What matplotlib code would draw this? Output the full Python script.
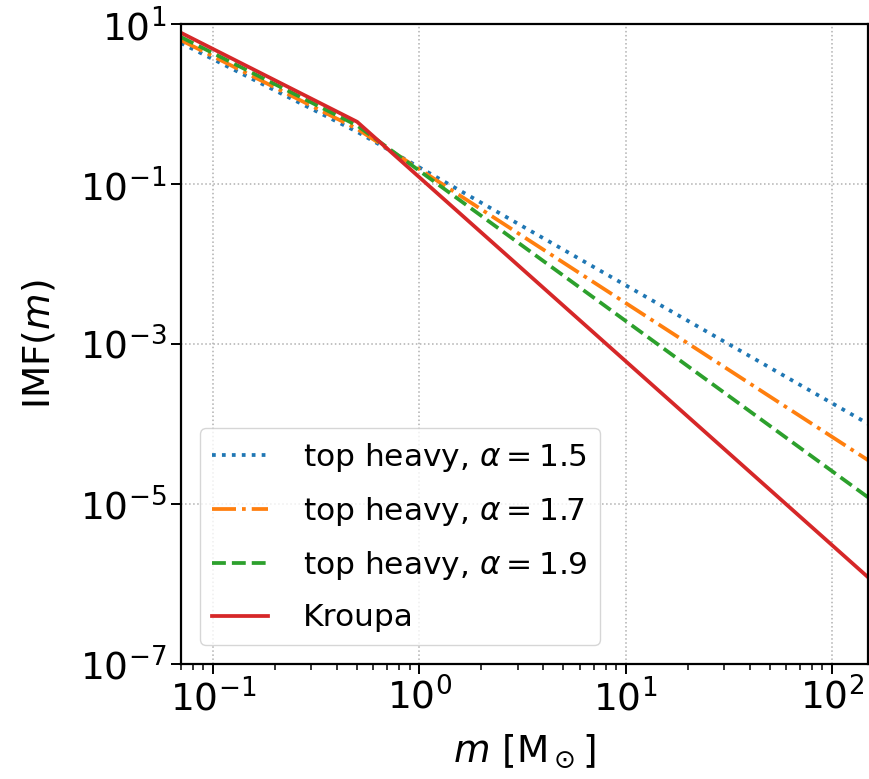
import matplotlib.pyplot as plt
from matplotlib.ticker import NullLocator

# stellar mass grid points (Msun) where the power-law segments meet
mass = [0.07, 0.5, 150.0]

# IMF values at those masses
imf_a15 = [5.8, 0.45, 1.0e-4]
imf_a17 = [6.3, 0.49, 3.5e-5]
imf_a19 = [6.9, 0.54, 1.2e-5]
imf_kroupa = [7.8, 0.60, 1.2e-6]

labels = [r'top heavy, $\alpha=1.5$', r'top heavy, $\alpha=1.7$',
          r'top heavy, $\alpha=1.9$', 'Kroupa']
yticks = [1e1, 1e-1, 1e-3, 1e-5, 1e-7]

fig = plt.figure(figsize=(8.7, 7.79), dpi=100)
ax = fig.add_axes([0.208, 0.148, 0.79, 0.821])

ax.plot(mass, imf_a15, ':', color='C0', lw=2.7, label=labels[0])
ax.plot(mass, imf_a17, '-.', color='C1', lw=2.7, label=labels[1])
ax.plot(mass, imf_a19, '--', color='C2', lw=2.7, label=labels[2])
ax.plot(mass, imf_kroupa, '-', color='C3', lw=2.7, label=labels[3])

ax.set_xscale('log')
ax.set_yscale('log')
ax.set_xlim(0.07, 150)
ax.set_ylim(1e-7, 1e1)
ax.set_yticks(yticks)
ax.yaxis.set_minor_locator(NullLocator())
ax.tick_params(axis='both', which='major', labelsize=27, length=7, width=1.4)
ax.tick_params(axis='x', which='minor', length=4, width=1.1)
for s in ax.spines.values():
    s.set_linewidth(1.6)

ax.grid(True, which='major', ls=':', color='#b0b0b0', lw=1.1)
ax.set_xlabel(r'$m$ [M$_\odot$]', fontsize=27, labelpad=10)
ax.set_ylabel(r'IMF($m$)', fontsize=27, labelpad=16)

ax.legend(loc='lower left', fontsize=22.5, handlelength=1.8,
          handletextpad=1.1, labelspacing=0.68, borderaxespad=0.6)

fig.savefig('out.png', dpi=100)
